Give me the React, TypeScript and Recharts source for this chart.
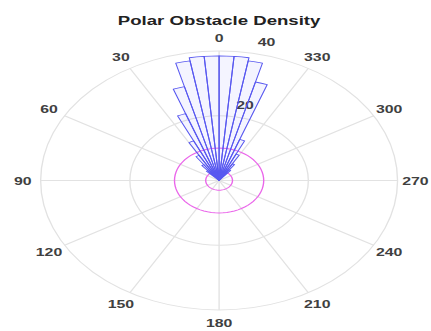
import React from 'react';
import {
  RadarChart,
  Radar,
  PolarGrid,
  PolarAngleAxis,
  PolarRadiusAxis,
  RadialBarChart,
  RadialBar,
} from 'recharts';

// ---------- data ----------
const chartTitle = 'Polar Obstacle Density';

// start angle (deg, counter-clockwise from top) of each 5-degree sector
const sectorAngles = [
  0, 5, 10, 15, 20, 25, 30, 35, 40, 45, 50, 55,
  60, 65, 70, 75, 80, 85, 90, 95, 100, 105, 110, 115,
  120, 125, 130, 135, 140, 145, 150, 155, 160, 165, 170, 175,
  180, 185, 190, 195, 200, 205, 210, 215, 220, 225, 230, 235,
  240, 245, 250, 255, 260, 265, 270, 275, 280, 285, 290, 295,
  300, 305, 310, 315, 320, 325, 330, 335, 340, 345, 350, 355,
];

const obstacleDensity = [
  38.5, 38.5, 37.5, 30, 22, 13.5, 9, 6, 4, 0, 0, 0,
  0, 0, 0, 0, 0, 0, 0, 0, 0, 0, 0, 0,
  0, 0, 0, 0, 0, 0, 0, 0, 0, 0, 0, 0,
  0, 0, 0, 0, 0, 0, 0, 0, 0, 0, 0, 0,
  0, 0, 0, 0, 0, 0, 0, 0, 0, 0, 0, 0,
  0, 0, 0, 0, 4, 6, 9, 13.5, 31.5, 37.5, 38.5, 38.5,
];

const lowerThreshold = 3;
const upperThreshold = 10;

const angleTickLabels = [0, 30, 60, 90, 120, 150, 180, 210, 240, 270, 300, 330];
const radiusDomain: [number, number] = [0, 40];
const radiusTickCount = 3;

const rows = sectorAngles.map((a, i) => ({
  angle: a,
  density: obstacleDensity[i],
  lower: lowerThreshold,
  upper: upperThreshold,
}));

// ---------- layout ----------
const W = 313;
const H = 331;
const CX = 159;
const CY = 180.5;
const R = 129.5;
const SX = 1.378;
// the category angle axis places its first band one sector before startAngle
const START = 95;
const END = 455;
const FONT = '"Liberation Sans", Arial, Helvetica, sans-serif';
const RADIUS_AXIS_ANGLE = 76;
const LABEL_FILL = '#404040';

const AngleTick = (props: any) => {
  const { x, y, payload } = props;
  const v = Number(payload.value);
  if (!angleTickLabels.includes(v)) return <g />;
  return (
    <text
      x={x}
      y={y}
      textAnchor="middle"
      dominantBaseline="central"
      fontSize={11.5}
      fontWeight="bold"
      fontFamily={FONT}
      fill={LABEL_FILL}
    >
      {v}
    </text>
  );
};

const RadiusTick = (props: any) => {
  const { x, y, payload } = props;
  const v = Number(payload.value);
  if (v === 0) return <g />;
  const a = (RADIUS_AXIS_ANGLE * Math.PI) / 180;
  return (
    <text
      x={x + 13 * Math.cos(a)}
      y={y - 13 * Math.sin(a)}
      textAnchor="middle"
      dominantBaseline="central"
      fontSize={11.5}
      fontWeight="bold"
      fontFamily={FONT}
      fill={LABEL_FILL}
    >
      {v}
    </text>
  );
};

const layer: React.CSSProperties = { position: 'absolute', left: 0, top: 0 };
const margin = { top: 0, right: 0, bottom: 0, left: 0 };

export default function App() {
  return (
    <div
      style={{
        position: 'absolute',
        left: 0,
        top: 0,
        width: W,
        height: H,
        background: '#fff',
        transform: `scaleX(${SX})`,
        transformOrigin: '0 0',
      }}
    >
      <div style={layer}>
        <RadarChart
          width={W}
          height={H}
          data={rows}
          cx={CX}
          cy={CY}
          innerRadius={0}
          outerRadius={R}
          startAngle={START}
          endAngle={END}
          margin={margin}
        >
          <PolarGrid
            gridType="circle"
            stroke="#e2e2e2"
            polarAngles={angleTickLabels.map((a) => 90 + a)}
          />
          <PolarAngleAxis
            dataKey="angle"
            type="category"
            tick={AngleTick}
            tickLine={false}
            axisLine={false}
            tickSize={13}
          />
          <PolarRadiusAxis
            type="number"
            domain={radiusDomain}
            tickCount={radiusTickCount}
            angle={RADIUS_AXIS_ANGLE}
            axisLine={false}
            tickLine={false}
            tick={RadiusTick}
          />
          <Radar
            dataKey="upper"
            stroke="#ea66ea"
            strokeWidth={1}
            fill="none"
            isAnimationActive={false}
            dot={false}
          />
          <Radar
            dataKey="lower"
            stroke="#ea66ea"
            strokeWidth={1}
            fill="none"
            isAnimationActive={false}
            dot={false}
          />
        </RadarChart>
      </div>
      <div style={layer}>
        <RadialBarChart
          width={W}
          height={H}
          data={rows}
          cx={CX}
          cy={CY}
          innerRadius={0}
          outerRadius={R}
          startAngle={START}
          endAngle={END}
          layout="centric"
          barCategoryGap={0}
          barGap={0}
          margin={margin}
        >
          <PolarAngleAxis
            dataKey="angle"
            type="category"
            tick={false}
            tickLine={false}
            axisLine={false}
          />
          <PolarRadiusAxis
            type="number"
            domain={radiusDomain}
            tick={false}
            tickLine={false}
            axisLine={false}
          />
          <RadialBar
            dataKey="density"
            fill="#2020ff"
            fillOpacity={0.05}
            stroke="#5858f0"
            strokeWidth={0.8}
            isAnimationActive={false}
          />
        </RadialBarChart>
      </div>
      <svg width={W} height={H} style={layer}>
        <text
          x={CX}
          y={25}
          textAnchor="middle"
          fontSize={13.5}
          fontWeight="bold"
          fontFamily={FONT}
          fill="#222"
        >
          {chartTitle}
        </text>
      </svg>
    </div>
  );
}
